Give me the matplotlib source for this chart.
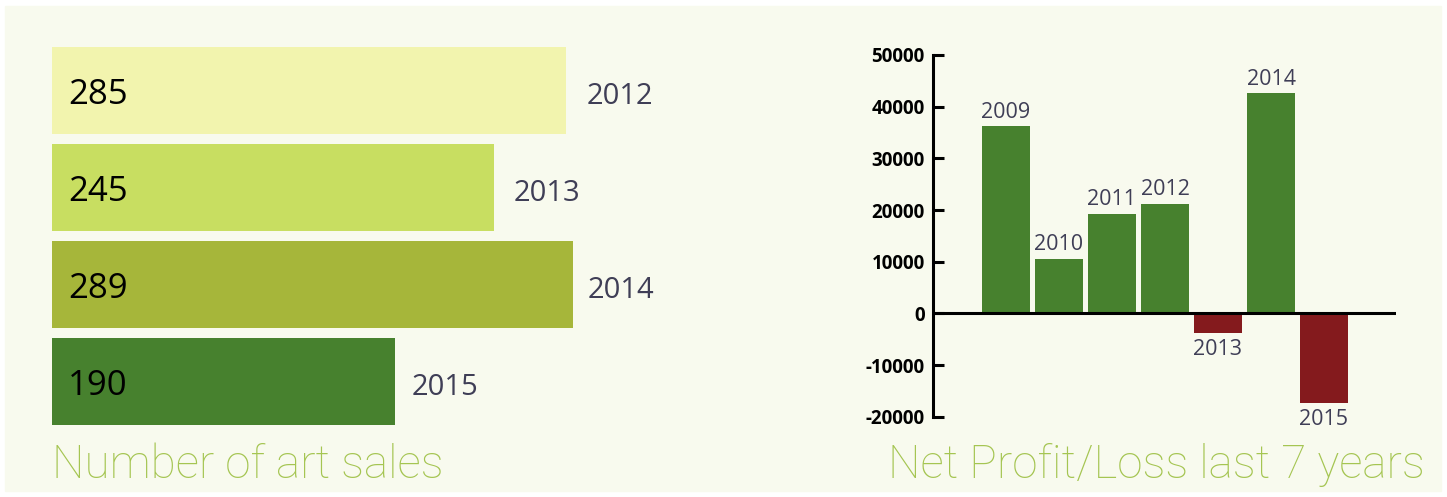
import matplotlib
matplotlib.use("Agg")
import matplotlib.pyplot as plt
from matplotlib.patches import Rectangle

# number of art sales
sales_years = ["2012", "2013", "2014", "2015"]
sales_counts = [285, 245, 289, 190]
sales_colors = ["#f2f4ae", "#c8de61", "#a6b63a", "#47812e"]

# net profit / loss
profit_years = ["2009", "2010", "2011", "2012", "2013", "2014", "2015"]
profit_values = [36200, 10600, 19300, 21200, -3800, 42600, -17300]
profit_ticks = [-20000, -10000, 0, 10000, 20000, 30000, 40000, 50000]

GREEN = "#47812e"
RED = "#841a1d"
CREAM = "#f8faee"
LABEL = "#3f3e56"
TITLE = "#a5c552"

plt.rcParams["font.family"] = ["Open Sans", "DejaVu Sans"]

W, H = 1447, 497
PX = 1.8035  # pixels per sale on the left chart
fig = plt.figure(figsize=(W / 100, H / 100), dpi=100)
fig.patch.set_facecolor("white")
fig.patches.append(Rectangle((5 / W, 1 - 491 / H), 1436 / W, 485 / H,
                             transform=fig.transFigure, color=CREAM, zorder=-5))


def px_rect(x0, y0, x1, y1):
    # pixel box (top-left origin) -> figure fraction rect
    return [x0 / W, 1 - y1 / H, (x1 - x0) / W, (y1 - y0) / H]


# ---- left: horizontal bars
ax1 = fig.add_axes(px_rect(52, 42, 52 + PX * 320, 430))
ax1.set_facecolor("none")
ypos = range(len(sales_counts))
ax1.barh(ypos, sales_counts, height=0.9, color=sales_colors)
label_pad = [21, 20, 14, 17]  # px gap between bar end and year
for i, (v, yr) in enumerate(zip(sales_counts, sales_years)):
    ax1.text(9, i + 0.01, str(v), va="center_baseline", ha="left", fontsize=25, color="black")
    ax1.text(v + label_pad[i] / PX, i + 0.03, yr, va="center_baseline", ha="left",
             fontsize=21, color=LABEL)
ax1.set_xlim(0, 320)
ax1.set_ylim(3.5, -0.5)
ax1.axis("off")

# ---- right: profit/loss columns
ax2 = fig.add_axes(px_rect(933, 55, 1396, 416.7))
ax2.set_facecolor("none")
xpos = range(len(profit_values))
colors = [GREEN if v >= 0 else RED for v in profit_values]
ax2.bar(xpos, profit_values, width=0.9, color=colors, zorder=2)
ax2.axhline(0, color="black", lw=2.2, zorder=3)
for i, (v, yr) in enumerate(zip(profit_values, profit_years)):
    if v >= 0:
        ax2.text(i, v + 700, yr, ha="center", va="bottom", fontsize=15.5, color=LABEL)
    else:
        ax2.text(i, v - 1200, yr, ha="center", va="top", fontsize=15.5, color=LABEL)
ax2.set_xlim(-73 / 53, 390 / 53)
ax2.set_ylim(-20000, 50000)
ax2.set_yticks(profit_ticks)
ax2.set_yticklabels([str(t) for t in profit_ticks], fontsize=13.5, fontweight="bold")
ax2.tick_params(axis="y", direction="in", length=8, width=2.2, pad=6)
ax2.set_xticks([])
for s in ["top", "right", "bottom"]:
    ax2.spines[s].set_visible(False)
ax2.spines["left"].set_linewidth(2.2)

# ---- titles
fig.text(52 / W, 1 - 478 / H, "Number of art sales", fontsize=33, color=TITLE,
         family=["Roboto", "DejaVu Sans"], fontweight="light", va="baseline")
fig.text(888 / W, 1 - 478 / H, "Net Profit/Loss last 7 years", fontsize=33, color=TITLE,
         family=["Roboto", "DejaVu Sans"], fontweight="light", va="baseline")

fig.savefig("out.png", dpi=100, facecolor=fig.get_facecolor())
